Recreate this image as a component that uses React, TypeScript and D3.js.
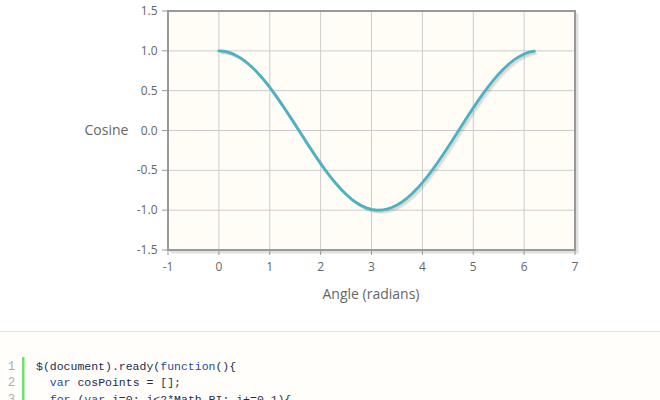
import React from "react";
import * as d3 from "d3";

const angles = [0, 0.1, 0.2, 0.3, 0.4, 0.5, 0.6, 0.7, 0.8, 0.9, 1.0, 1.1, 1.2, 1.3, 1.4, 1.5, 1.6, 1.7, 1.8, 1.9, 2.0, 2.1, 2.2, 2.3, 2.4, 2.5, 2.6, 2.7, 2.8, 2.9, 3.0, 3.1, 3.2, 3.3, 3.4, 3.5, 3.6, 3.7, 3.8, 3.9, 4.0, 4.1, 4.2, 4.3, 4.4, 4.5, 4.6, 4.7, 4.8, 4.9, 5.0, 5.1, 5.2, 5.3, 5.4, 5.5, 5.6, 5.7, 5.8, 5.9, 6.0, 6.1, 6.2];
const cosines = [1.0, 0.995, 0.98, 0.955, 0.921, 0.878, 0.825, 0.765, 0.697, 0.622, 0.54, 0.454, 0.362, 0.267, 0.17, 0.071, -0.029, -0.129, -0.227, -0.323, -0.416, -0.505, -0.589, -0.666, -0.737, -0.801, -0.857, -0.904, -0.942, -0.971, -0.99, -0.999, -0.998, -0.987, -0.967, -0.936, -0.897, -0.848, -0.791, -0.726, -0.654, -0.575, -0.49, -0.401, -0.307, -0.211, -0.112, -0.012, 0.087, 0.187, 0.284, 0.378, 0.469, 0.554, 0.635, 0.709, 0.776, 0.835, 0.886, 0.927, 0.96, 0.983, 0.997];
const xTicks = [-1, 0, 1, 2, 3, 4, 5, 6, 7];
const yTicks = [1.5, 1.0, 0.5, 0.0, -0.5, -1.0, -1.5];
const xTitle = "Angle (radians)";
const yTitle = "Cosine";
const codeLines = [
  "$(document).ready(function(){",
  "  var cosPoints = [];",
  "  for (var i=0; i<2*Math.PI; i+=0.1){",
];

export default function App() {
  const left = 168, right = 575, top = 11, bottom = 250;
  const x = d3.scaleLinear().domain([-1, 7]).range([left, right]);
  const y = d3.scaleLinear().domain([-1.5, 1.5]).range([bottom, top]);
  const pts = angles.map((a, i) => [a, cosines[i]] as [number, number]);
  const line = d3.line<[number, number]>().x((d) => x(d[0])).y((d) => y(d[1]));
  const path = line(pts) || "";
  const font = "'Open Sans', 'DejaVu Sans', sans-serif";
  const mono = "'Liberation Mono', 'DejaVu Sans Mono', monospace";
  const kw = new Set(["var", "for", "function"]);

  const renderCode = (s: string) => {
    const parts = s.split(/(\bvar\b|\bfor\b|\bfunction\b)/);
    return parts.map((p, i) => (
      <tspan key={i} fill={kw.has(p) ? "#1f4c9a" : "#1e2b55"}>{p}</tspan>
    ));
  };

  return (
    <svg width={660} height={400} style={{ position: "absolute", left: 0, top: 0, background: "#ffffff" }}>
      {/* plot background */}
      <rect x={left} y={top} width={right - left} height={bottom - top} fill="#fffdf6" />
      {/* grid */}
      {xTicks.map((t) => (
        <line key={"gx" + t} x1={x(t)} x2={x(t)} y1={top} y2={bottom} stroke="#cccccc" strokeWidth={1} />
      ))}
      {yTicks.map((t) => (
        <line key={"gy" + t} x1={left} x2={right} y1={y(t)} y2={y(t)} stroke="#cccccc" strokeWidth={1} />
      ))}
      {/* border shadow */}
      {[1, 2, 3].map((o) => (
        <path key={"bs" + o} d={`M${left + o},${bottom + o}H${right + o}V${top + o}`} fill="none" stroke="rgba(0,0,0,0.06)" strokeWidth={2} />
      ))}
      {/* border */}
      <rect x={left} y={top} width={right - left} height={bottom - top} fill="none" stroke="#999999" strokeWidth={2} />
      {/* ticks */}
      {xTicks.map((t) => (
        <g key={"tx" + t}>
          <line x1={x(t)} x2={x(t)} y1={bottom + 1} y2={bottom + 5} stroke="#999999" strokeWidth={1} />
          <text x={x(t)} y={270.5} textAnchor="middle" fontSize={12} fontFamily={font} fill="#666666">{t}</text>
        </g>
      ))}
      {yTicks.map((t) => (
        <g key={"ty" + t}>
          <line x1={left - 6} x2={left - 1} y1={y(t)} y2={y(t)} stroke="#999999" strokeWidth={1} />
          <text x={157.5} y={y(t) + 4} textAnchor="end" fontSize={12} fontFamily={font} fill="#666666">{t.toFixed(1)}</text>
        </g>
      ))}
      {/* series shadow */}
      {[1, 2, 3].map((o) => (
        <path key={"ls" + o} d={path} transform={`translate(${o * 0.9},${o * 0.9})`} fill="none" stroke="rgba(0,0,0,0.07)" strokeWidth={2.5} strokeLinejoin="round" />
      ))}
      <path d={path} fill="none" stroke="#4bb2c5" strokeWidth={2.8} strokeLinejoin="round" strokeLinecap="round" />
      {/* axis titles */}
      <text x={106.5} y={135} textAnchor="middle" fontSize={14} fontFamily={font} fill="#666666">{yTitle}</text>
      <text x={371} y={299} textAnchor="middle" fontSize={14} fontFamily={font} fill="#666666">{xTitle}</text>
      {/* code block */}
      <rect x={0} y={331} width={660} height={69} fill="#fffefa" />
      <line x1={0} x2={660} y1={331.5} y2={331.5} stroke="#e2e2e2" strokeWidth={1} />
      <rect x={22} y={357} width={2.5} height={43} fill="#6ce26c" />
      {codeLines.map((c, i) => (
        <g key={"c" + i}>
          <text x={11.5} y={369.5 + i * 16.5} textAnchor="middle" fontSize={12.5} fontFamily={mono} fill="#afafaf">{i + 1}</text>
          <text x={36} y={369.5 + i * 16.5} fontSize={11.5} fontFamily={mono} style={{ whiteSpace: "pre" }} xmlSpace="preserve">{renderCode(c)}</text>
        </g>
      ))}
    </svg>
  );
}
